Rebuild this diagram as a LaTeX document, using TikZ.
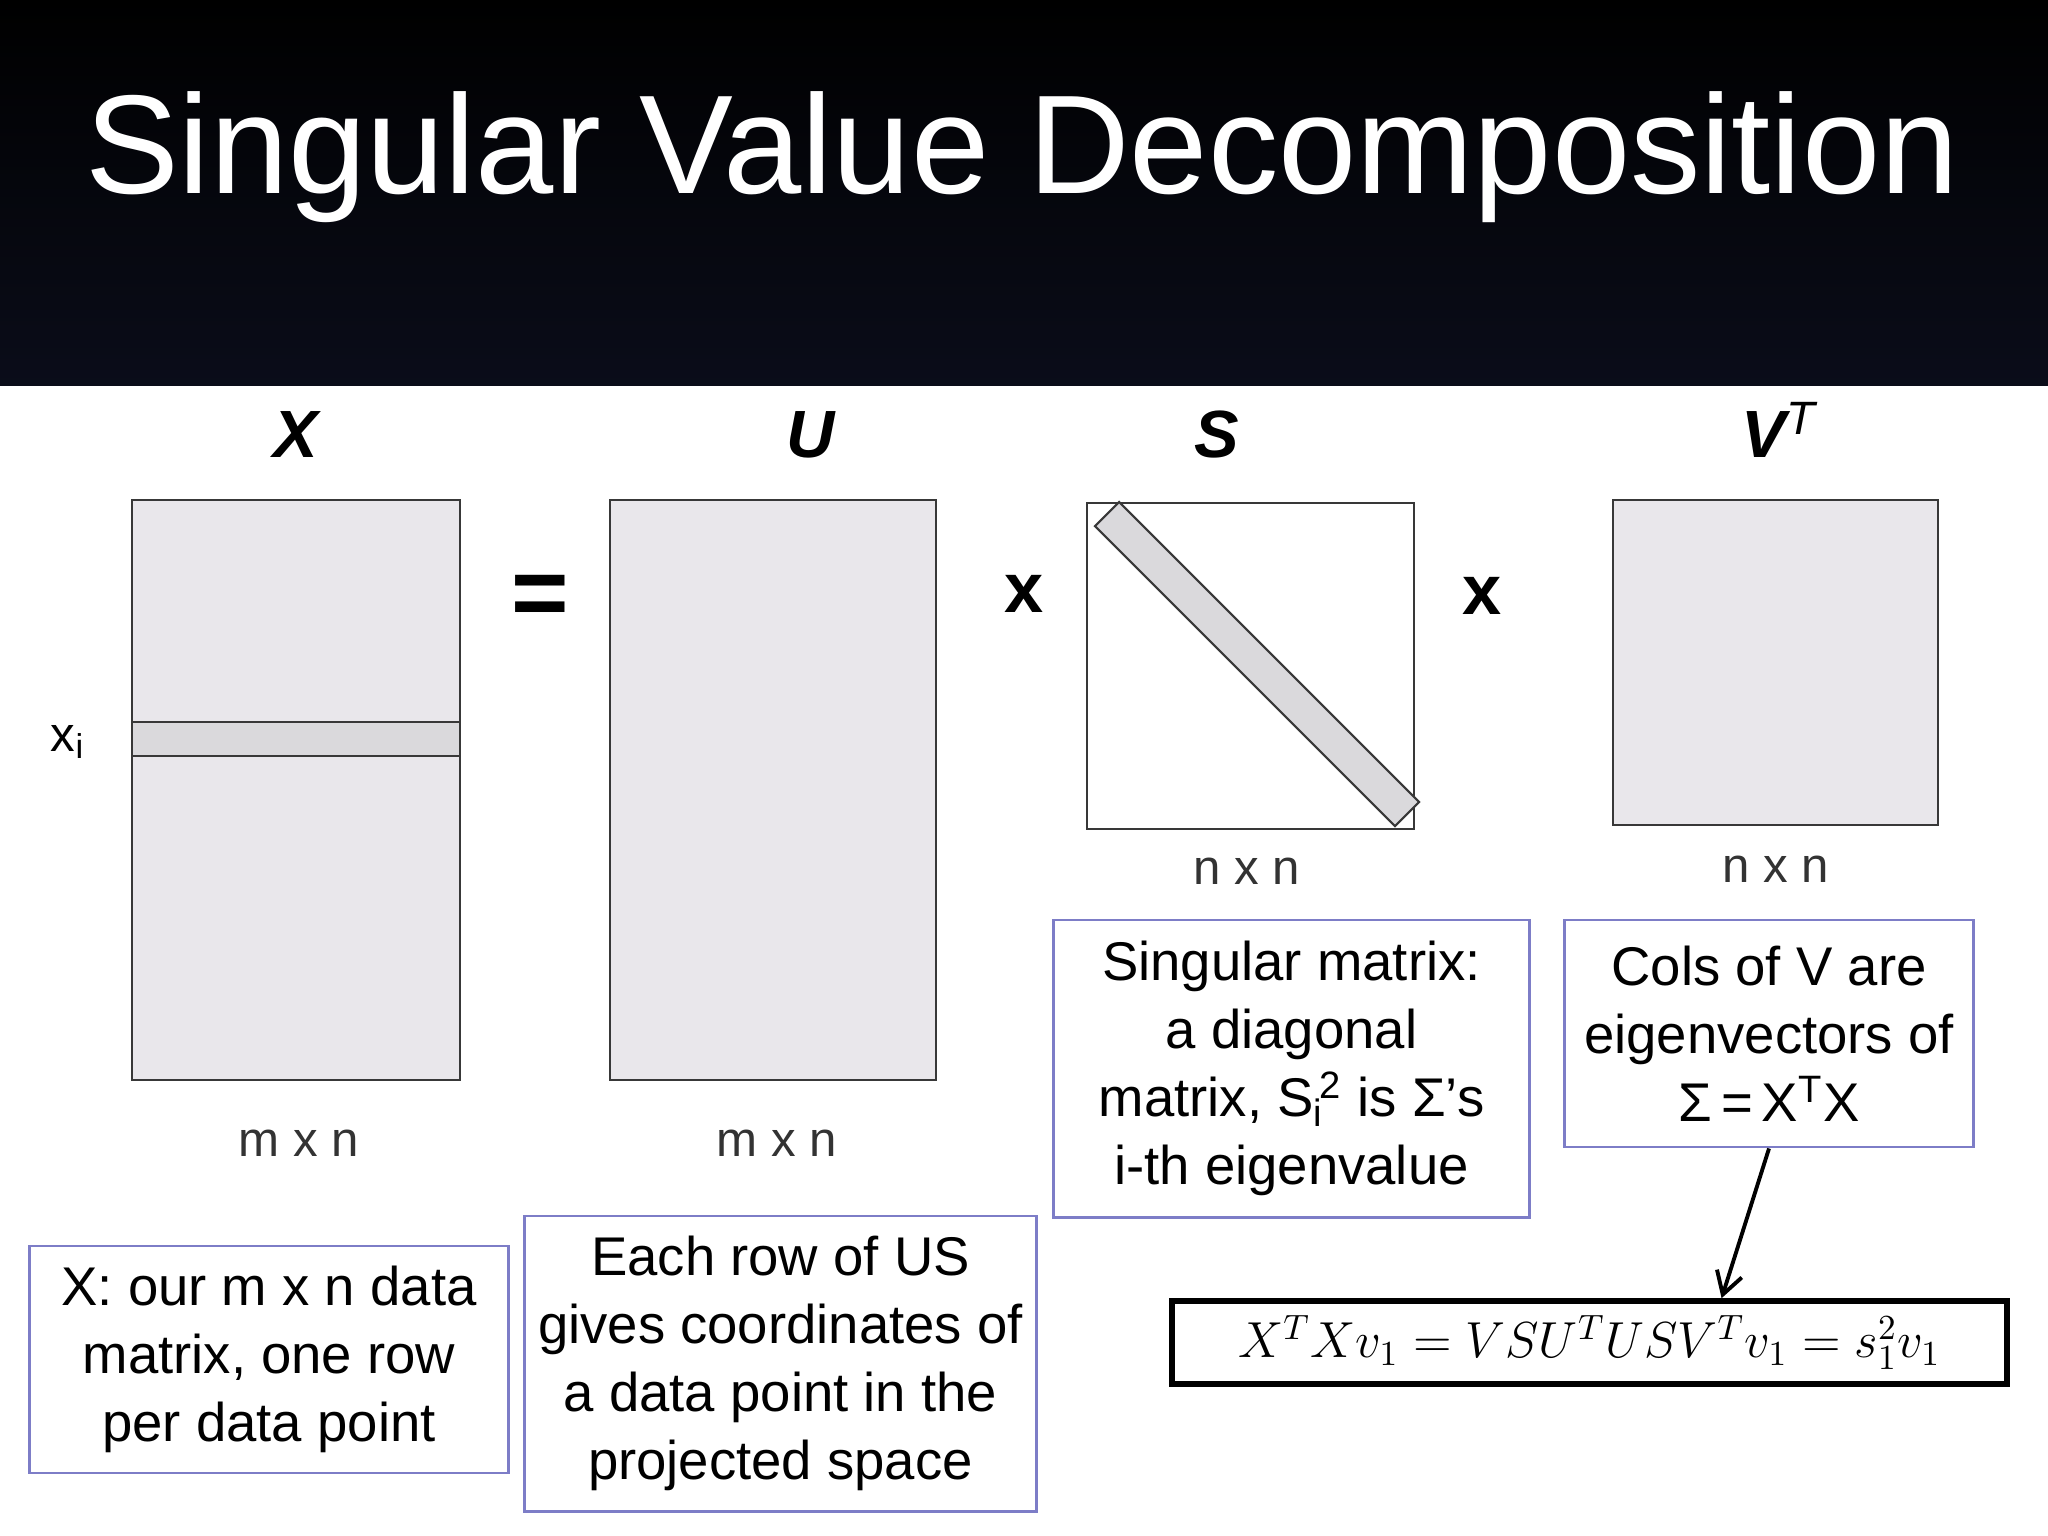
\documentclass[tikz,border=0pt]{standalone}
\usepackage{fontspec}
\setmainfont{Liberation Sans}
\usetikzlibrary{arrows.meta}

\begin{document}
\begin{tikzpicture}[x=0.01cm,y=-0.01cm,
  mat/.style={draw=cmb,fill=cmf,line width=0.6pt,inner sep=0pt},
  note/.style={draw=cnb,fill=white,line width=0.8pt,align=center,inner sep=0pt,font=\fontsize{15.5}{19.35}\selectfont},
  dim/.style={font=\fontsize{14}{16}\selectfont,text=clt},
  head/.style={font=\fontsize{19}{22}\selectfont\bfseries\itshape,anchor=base},
  op/.style={font=\fontsize{20}{24}\selectfont\bfseries}]
\definecolor{cmb}{rgb}{0.22,0.22,0.22}
\definecolor{cmf}{rgb}{0.914,0.906,0.922}
\definecolor{cbf}{rgb}{0.855,0.851,0.863}
\definecolor{cnb}{rgb}{0.49,0.49,0.78}
\definecolor{clt}{rgb}{0.2,0.2,0.2}
\definecolor{ctb}{rgb}{0.04,0.05,0.1}
%
\useasboundingbox (0,0) rectangle (2048,1536);
\fill[white] (0,0) rectangle (2048,1536);
\shade[top color=black,bottom color=ctb] (0,0) rectangle (2048,385);
\node[font=\fontsize{40}{48}\selectfont,text=white,anchor=base] (title) at (1022,193) {Singular Value Decomposition};
%
\node[head] (lX) at (296,457) {X};
\node[head] (lU) at (811,457) {U};
\node[head] (lS) at (1217,457) {S};
\node[head] (lV) at (1779,457) {V\textsuperscript{\mdseries T}};
%
\node[mat,minimum width=3.28cm,minimum height=5.8cm] (mX) at (296,790) {};
\node[mat,fill=cbf,minimum width=3.28cm,minimum height=0.34cm] (xi) at (296,739) {};
\node[mat,minimum width=3.26cm,minimum height=5.8cm] (mU) at (773,790) {};
\node[mat,fill=white,minimum width=3.27cm,minimum height=3.26cm] (mS) at (1250.5,666) {};
\node[mat,fill=cbf,rotate=-45,minimum width=4.24cm,minimum height=0.34cm] (diag) at (1257,664) {};
\node[mat,minimum width=3.25cm,minimum height=3.25cm] (mV) at (1775.5,662.5) {};
%
\node[dim,text=black] (lxi) at (68,742) {x\textsubscript{i}};
\node[op,font=\fontsize{28}{30}\selectfont\bfseries] (eq) at (540,601) {=};
\node[op] (t1) at (1024,594) {x};
\node[op] (t2) at (1482,596) {x};
\node[dim] (dX) at (299,1143) {m x n};
\node[dim] (dU) at (777,1143) {m x n};
\node[dim] (dS) at (1247,871) {n x n};
\node[dim] (dV) at (1776,869) {n x n};
%
\node[note,minimum width=4.75cm,minimum height=2.97cm] (nS) at (1291.5,1068.5)
  {Singular matrix:\\ a diagonal\\ matrix, S\textsubscript{i}\kern-0.08em\textsuperscript{2} is Σ’s\\ i-th eigenvalue};
\node[note,minimum width=4.08cm,minimum height=2.27cm] (nV) at (1769,1033.5)
  {Cols of V are\\ eigenvectors of\\ Σ\,=\,X\textsuperscript{T}X};
\node[note,minimum width=4.78cm,minimum height=2.27cm] (nX) at (269,1359.5)
  {X: our m x n data\\ matrix, one row\\ per data point};
\node[note,minimum width=5.11cm,minimum height=2.95cm] (nU) at (780.5,1363.5)
  {Each row of US\\ gives coordinates of\\ a data point in the\\ projected space};
\node[draw=black,line width=1.6pt,minimum width=8.35cm,minimum height=0.83cm,inner sep=0pt,font=\fontsize{14.3}{17}\selectfont] (form) at (1589.5,1342.5)
  {$X^TXv_1=VSU^TUSV^Tv_1=s_1^2v_1$};
%
\draw[line width=1.1pt,-{Straight Barb[length=2.2mm,width=2.6mm]}] (nV.south) -- ([xshift=1.32cm]form.north);
%
\end{tikzpicture}
\end{document}
